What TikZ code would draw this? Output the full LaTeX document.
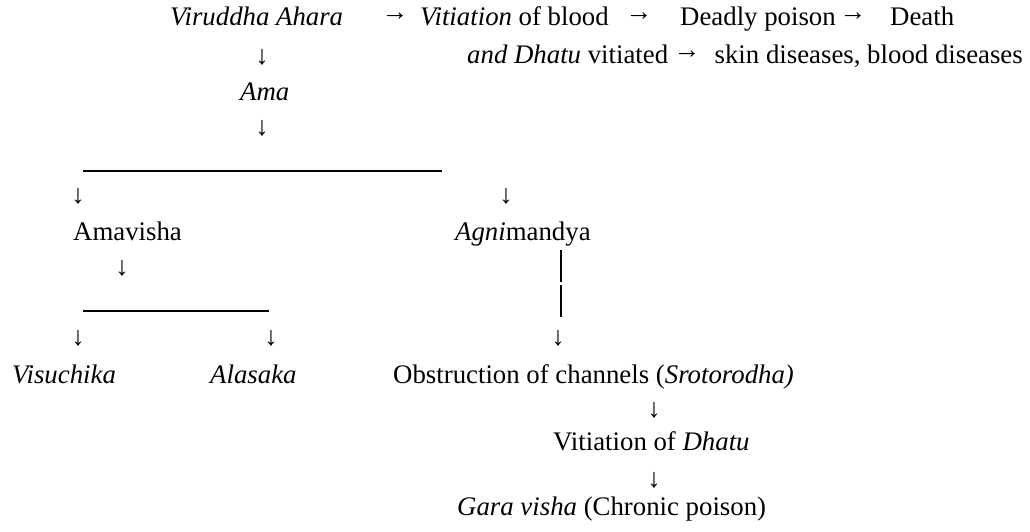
\documentclass[tikz,border=0pt]{standalone}
\usepackage{fontspec}
\setmainfont{Liberation Serif}
\newfontfamily\tnr{Liberation Serif}
\begin{document}
\begin{tikzpicture}[x=1pt,y=-1pt,
  txt/.style={inner sep=0pt,anchor=base west,font=\tnr\fontsize{26.8}{32}\selectfont},
  txte/.style={inner sep=0pt,anchor=base east,font=\tnr\fontsize{26.8}{32}\selectfont},
  arr/.style={inner sep=0pt,anchor=center,font=\tnr\fontsize{26.8}{32}\selectfont},
  rulel/.style={line width=1.1pt},
  barl/.style={line width=2pt}]
\useasboundingbox (0,0) rectangle (1030,531);
% row 1
\node[txt] (vir) at (170,25) {\textit{Viruddha Ahara}};
\node[arr] (r1) at (395,17) {→};
\node[txt] (vit) at (420,25) {\textit{Vitiation} of blood};
\node[arr] (r2) at (639,17) {→};
\node[txt] (dead) at (680,25) {Deadly poison};
\node[arr] (r3) at (853,17) {→};
\node[txt] (death) at (890,25) {Death};
% row 2
\node[arr] (d1) at (262,57) {↓};
\node[txt] (andd) at (467,63) {\textit{and Dhatu} vitiated};
\node[arr] (r4) at (687,55) {→};
\node[txte] (skin) at (1023,63) {skin diseases, blood diseases};
% Ama
\node[txt] (ama) at (240,100) {\textit{Ama}};
\node[arr] (d2) at (262,128) {↓};
% split
\coordinate (s1a) at (83,171);
\coordinate (s1b) at (442,171);
\draw[rulel] (s1a) -- (s1b);
\node[arr] (d3) at (78,196) {↓};
\node[arr] (d4) at (506,196) {↓};
\node[txt] (amav) at (73,240) {Amavisha};
\node[txt] (agni) at (455,240) {\textit{Agni}mandya};
\node[arr] (d5) at (122,268) {↓};
% bars
\coordinate (b1a) at (561,250);
\coordinate (b1b) at (561,282);
\coordinate (b2a) at (561,285);
\coordinate (b2b) at (561,317);
\draw[barl] (b1a) -- (b1b);
\draw[barl] (b2a) -- (b2b);
\node[arr] (d8) at (558,338) {↓};
% second split
\coordinate (s2a) at (83,311);
\coordinate (s2b) at (269,311);
\draw[rulel] (s2a) -- (s2b);
\node[arr] (d6) at (78,338) {↓};
\node[arr] (d7) at (271,338) {↓};
% row 11
\node[txt] (visu) at (12,383) {\textit{Visuchika}};
\node[txt] (alas) at (210,383) {\textit{Alasaka}};
\node[txt] (obst) at (393,383) {Obstruction of channels (\textit{Srotorodha)}};
\node[arr] (d9) at (654,410) {↓};
\node[txt] (vdh) at (553,450) {Vitiation of \textit{Dhatu}};
\node[arr] (d10) at (654,480) {↓};
\node[txt] (gara) at (457,515) {\textit{Gara visha} (Chronic poison)};
\end{tikzpicture}
\end{document}
